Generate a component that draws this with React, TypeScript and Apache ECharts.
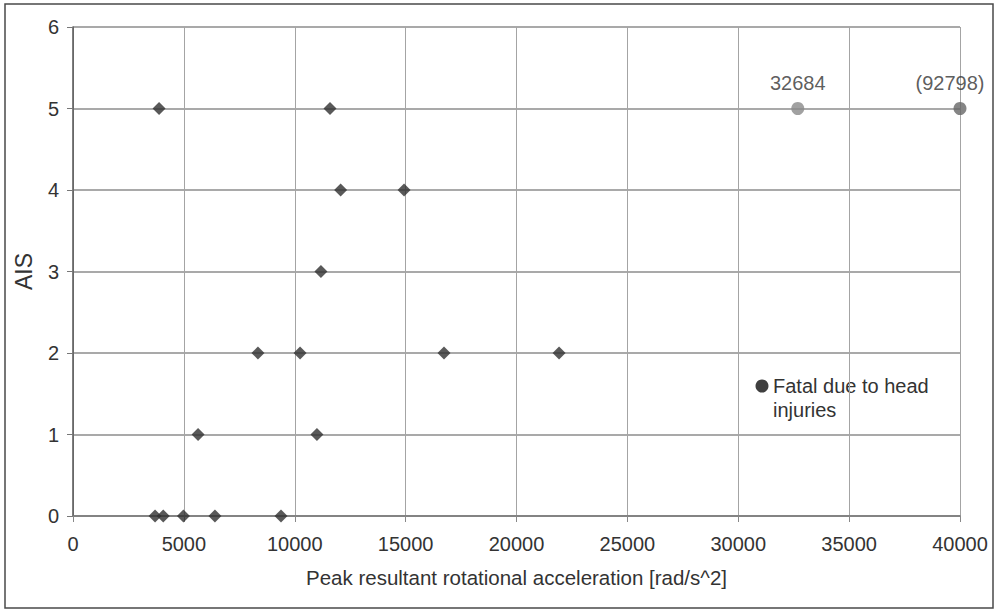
import React, { useEffect, useRef } from "react";
import * as echarts from "echarts";

const xTicks = [0, 5000, 10000, 15000, 20000, 25000, 30000, 35000, 40000];
const yTicks = [0, 1, 2, 3, 4, 5, 6];

// Non-fatal cases: [peak rotational acceleration, AIS]
const caseAccel = [
  3700, 4070, 4980, 6400, 9380,
  5640, 11000,
  8340, 10240, 16730, 21920,
  11180,
  12070, 14930,
  3880, 11590,
];
const caseAIS = [
  0, 0, 0, 0, 0,
  1, 1,
  2, 2, 2, 2,
  3,
  4, 4,
  5, 5,
];

// Fatal cases (plotted value, AIS, label); the 92798 case is clipped at the axis maximum
const fatalAccel = [32684, 40000];
const fatalAIS = [5, 5];
const fatalLabels = ["32684", "(92798)"];
const fatalColors = ["#8a8a8a", "#666666"];

const legendLabel = "Fatal due to head\ninjuries";

export default function App() {
  const ref = useRef<HTMLDivElement>(null);
  useEffect(() => {
    document.body.style.margin = "0";
    if (!ref.current) return;
    const chart = echarts.init(ref.current, null, { renderer: "svg" });
    const font = "Liberation Sans, Arial, sans-serif";
    const textColor = "#333333";
    chart.setOption({
      animation: false,
      backgroundColor: "#ffffff",
      textStyle: { fontFamily: font },
      grid: { left: 73, right: 39, top: 27, bottom: 96, containLabel: false },
      xAxis: {
        type: "value",
        min: xTicks[0],
        max: xTicks[xTicks.length - 1],
        interval: 5000,
        name: "Peak resultant rotational acceleration [rad/s^2]",
        nameLocation: "middle",
        nameGap: 51,
        nameTextStyle: { fontSize: 20.5, color: textColor, fontFamily: font },
        axisLine: { show: true, onZero: false, lineStyle: { color: "#777", width: 1.5 } },
        axisTick: { show: true, length: 6, inside: false, lineStyle: { color: "#888" } },
        axisLabel: {
          fontSize: 20,
          color: textColor,
          margin: 18,
          fontFamily: font,
          formatter: (v: number) => String(v),
        },
        splitLine: { show: true, lineStyle: { color: "#a4a4a4", width: 1 } },
      },
      yAxis: {
        type: "value",
        min: yTicks[0],
        max: yTicks[yTicks.length - 1],
        interval: 1,
        name: "AIS",
        nameLocation: "middle",
        nameGap: 38,
        nameRotate: 90,
        nameTextStyle: { fontSize: 23, color: textColor, fontFamily: font },
        axisLine: { show: true, onZero: false, lineStyle: { color: "#555", width: 1.5 } },
        axisTick: { show: true, length: 6, lineStyle: { color: "#777" } },
        axisLabel: { fontSize: 20, color: textColor, margin: 14, fontFamily: font },
        splitLine: { show: true, lineStyle: { color: "#8c8c8c", width: 1.5 } },
      },
      series: [
        {
          name: "Cases",
          type: "scatter",
          symbol: "diamond",
          symbolSize: 13,
          itemStyle: { color: "#2f2f2f" },
          data: caseAccel.map((x, i) => [x, caseAIS[i]]),
          z: 3,
        },
        {
          name: "Fatal due to head injuries",
          type: "scatter",
          symbol: "circle",
          symbolSize: 13,
          itemStyle: { color: "#4a4a4a" },
          data: fatalAccel.map((x, i) => ({
            value: [x, fatalAIS[i]],
            itemStyle: { color: fatalColors[i] },
            label: {
              show: true,
              position: "top",
              distance: 9,
              fontSize: 20,
              color: textColor,
              fontFamily: font,
              formatter: fatalLabels[i],
              offset: i === 1 ? [-10, 0] : [0, 0],
            },
          })),
          z: 3,
        },
      ],
      graphic: [
        {
          type: "rect",
          shape: { x: 5, y: 4, width: 988, height: 604 },
          style: { fill: "none", stroke: "#4a4a4a", lineWidth: 1.5 },
          silent: true,
        },
        {
          type: "circle",
          shape: { cx: 762, cy: 386, r: 6.5 },
          style: { fill: "#3f3f3f" },
          silent: true,
        },
        {
          type: "text",
          x: 773,
          y: 374,
          style: {
            text: legendLabel,
            fontSize: 20,
            lineHeight: 24,
            fill: textColor,
            fontFamily: font,
            textVerticalAlign: "top",
          },
          silent: true,
        },
      ],
    });
    return () => chart.dispose();
  }, []);
  return <div ref={ref} style={{ width: 999, height: 612 }} />;
}
